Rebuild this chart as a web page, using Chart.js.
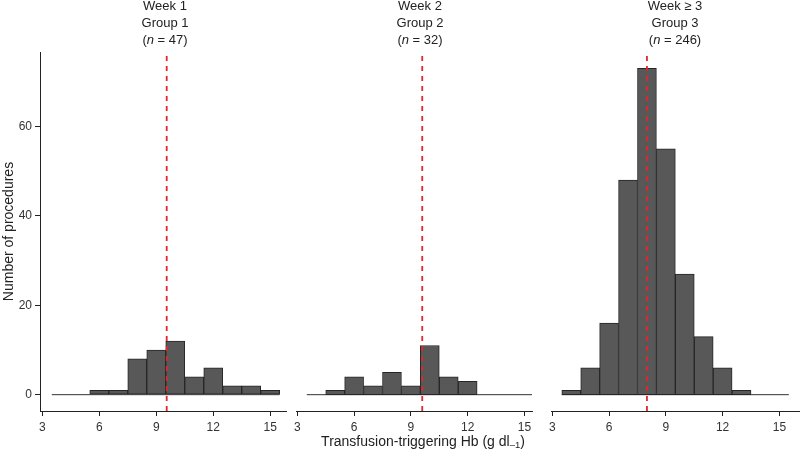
<!DOCTYPE html>
<html lang="en">
<head>
  <meta charset="UTF-8" />
  <title>Transfusion-triggering Hb</title>
  <script src="https://cdn.jsdelivr.net/npm/chart.js"></script>
  <style>
    body, html {
      margin: 0;
      background: #fff;
    }
    #wrap {
      position: relative;
      width: 800px;
      height: 456px;
    }
    canvas {
      position: absolute;
      top: 0;
    }
  </style>
</head>
<body>
  <div id="wrap">
    <canvas id="g1" width="290" height="456" style="left:0px"></canvas>
    <canvas id="g2" width="250" height="456" style="left:290px"></canvas>
    <canvas id="g3" width="255" height="456" style="left:545px"></canvas>
  </div>

  <script>
    // histogram bins (g/dl), 1 unit wide, centred on integers
    const binCenters = [4, 5, 6, 7, 8, 9, 10, 11, 12, 13, 14, 15];
    const group1Counts = [0, 0, 1, 1, 8, 10, 12, 4, 6, 2, 2, 1];
    const group2Counts = [0, 1, 4, 2, 5, 2, 11, 4, 3, 0, 0, 0];
    const group3Counts = [1, 6, 16, 48, 73, 55, 27, 13, 6, 1, 0, 0];
    const medians = [9.55, 9.6, 8.0];

    const weekLabels = ['Week 1', 'Week 2', 'Week \u2265 3'];
    const groupLabels = ['Group 1', 'Group 2', 'Group 3'];
    const nValues = [47, 32, 246];

    const xTicks = [3, 6, 9, 12, 15];
    const yTicks = [0, 20, 40, 60];
    const yMin = -3.65, yMax = 76.65;

    const xTitleMain = 'Transfusion-triggering Hb (g dl';
    const xTitleSub = '\u20131';
    const yTitle = 'Number of procedures';

    const FONT = '"Liberation Sans", Arial, sans-serif';
    Chart.defaults.font.family = FONT;
    Chart.defaults.color = '#333';

    // panel titles (with italic n) and the shared x title
    const textPlugin = {
      id: 'panelText',
      afterDraw(chart, args, o) {
        const ctx = chart.ctx;
        ctx.save();
        ctx.fillStyle = '#222';
        ctx.textAlign = 'center';
        ctx.textBaseline = 'middle';
        ctx.font = '13px ' + FONT;
        ctx.fillText(weekLabels[o.idx], o.cx, 6);
        ctx.fillText(groupLabels[o.idx], o.cx, 23);

        const a = '(', b = 'n', c = ' = ' + nValues[o.idx] + ')';
        const normal = '13px ' + FONT;
        const italic = 'italic 13px ' + FONT;
        ctx.font = normal;
        const wa = ctx.measureText(a).width, wc = ctx.measureText(c).width;
        ctx.font = italic;
        const wb = ctx.measureText(b).width;
        let x = o.cx - (wa + wb + wc) / 2;
        ctx.textAlign = 'left';
        ctx.font = normal; ctx.fillText(a, x, 40); x += wa;
        ctx.font = italic; ctx.fillText(b, x, 40); x += wb;
        ctx.font = normal; ctx.fillText(c, x, 40);

        if (o.xTitle) {
          // "dl" followed by a small lowered "-1"
          const big = '14px ' + FONT, small = '9.5px ' + FONT;
          ctx.font = big;
          const w1 = ctx.measureText(xTitleMain).width;
          const w3 = ctx.measureText(')').width;
          ctx.font = small;
          const w2 = ctx.measureText(xTitleSub).width;
          let tx = o.xTitleX - (w1 + w2 + w3) / 2;
          ctx.textBaseline = 'alphabetic';
          ctx.font = big; ctx.fillText(xTitleMain, tx, 446); tx += w1;
          ctx.font = small; ctx.fillText(xTitleSub, tx, 448); tx += w2;
          ctx.font = big; ctx.fillText(')', tx, 446);
        }
        ctx.restore();
      }
    };

    function makePanel(id, idx, counts, xMin, xMax, pad, extra) {
      const first = binCenters[0] - 0.5;
      const last = binCenters[binCenters.length - 1] + 0.5;
      const showY = idx === 0;

      return new Chart(document.getElementById(id), {
        type: 'bar',
        data: {
          datasets: [
            {
              type: 'line',
              data: [{ x: medians[idx], y: yMin }, { x: medians[idx], y: yMax }],
              borderColor: '#e3262b',
              borderWidth: 1.8,
              borderDash: [5, 5],
              pointRadius: 0,
              order: 0
            },
            {
              data: binCenters.map((b, i) => ({ x: b, y: counts[i] })),
              backgroundColor: '#585858',
              borderColor: '#262626',
              borderWidth: 1,
              borderSkipped: false,
              categoryPercentage: 1,
              barPercentage: 1,
              order: 1
            },
            {
              type: 'line',
              data: [{ x: first, y: 0 }, { x: last, y: 0 }],
              borderColor: '#333',
              borderWidth: 1,
              pointRadius: 0,
              order: 2
            }
          ]
        },
        options: {
          responsive: false,
          animation: false,
          layout: { padding: pad },
          plugins: {
            legend: { display: false },
            tooltip: { enabled: false },
            panelText: Object.assign({ idx: idx }, extra)
          },
          scales: {
            x: {
              type: 'linear',
              offset: false,
              min: xMin,
              max: xMax,
              afterBuildTicks: s => { s.ticks = xTicks.map(v => ({ value: v })); },
              afterFit: s => { s.height = 45; },
              ticks: { font: { size: 12 }, padding: 4, maxRotation: 0, autoSkip: false, color: '#333' },
              grid: { offset: false, drawOnChartArea: false, drawTicks: true, tickLength: 5, color: '#222' },
              border: { display: true, color: '#222' }
            },
            y: {
              display: showY,
              min: yMin,
              max: yMax,
              afterBuildTicks: s => { s.ticks = yTicks.map(v => ({ value: v })); },
              afterFit: s => { if (showY) s.width = 40; },
              ticks: { font: { size: 12 }, padding: 3, color: '#333' },
              grid: { drawOnChartArea: false, drawTicks: true, tickLength: 5, color: '#222' },
              border: { display: true, color: '#222' },
              title: {
                display: true,
                text: yTitle,
                color: '#222',
                font: { size: 14 },
                padding: { top: 1, bottom: 0 }
              }
            }
          }
        },
        plugins: [textPlugin]
      });
    }

    makePanel('g1', 0, group1Counts, 2.88, 15.83, { top: 52, left: 0, right: 4, bottom: 0 }, { cx: 165 });
    makePanel('g2', 1, group2Counts, 2.98, 15.4, { top: 52, left: 6, right: 8, bottom: 0 },
      { cx: 130, xTitle: true, xTitleX: 133 });
    makePanel('g3', 2, group3Counts, 2.98, 16.09, { top: 52, left: 6, right: 0, bottom: 0 }, { cx: 130 });
  </script>
</body>
</html>
